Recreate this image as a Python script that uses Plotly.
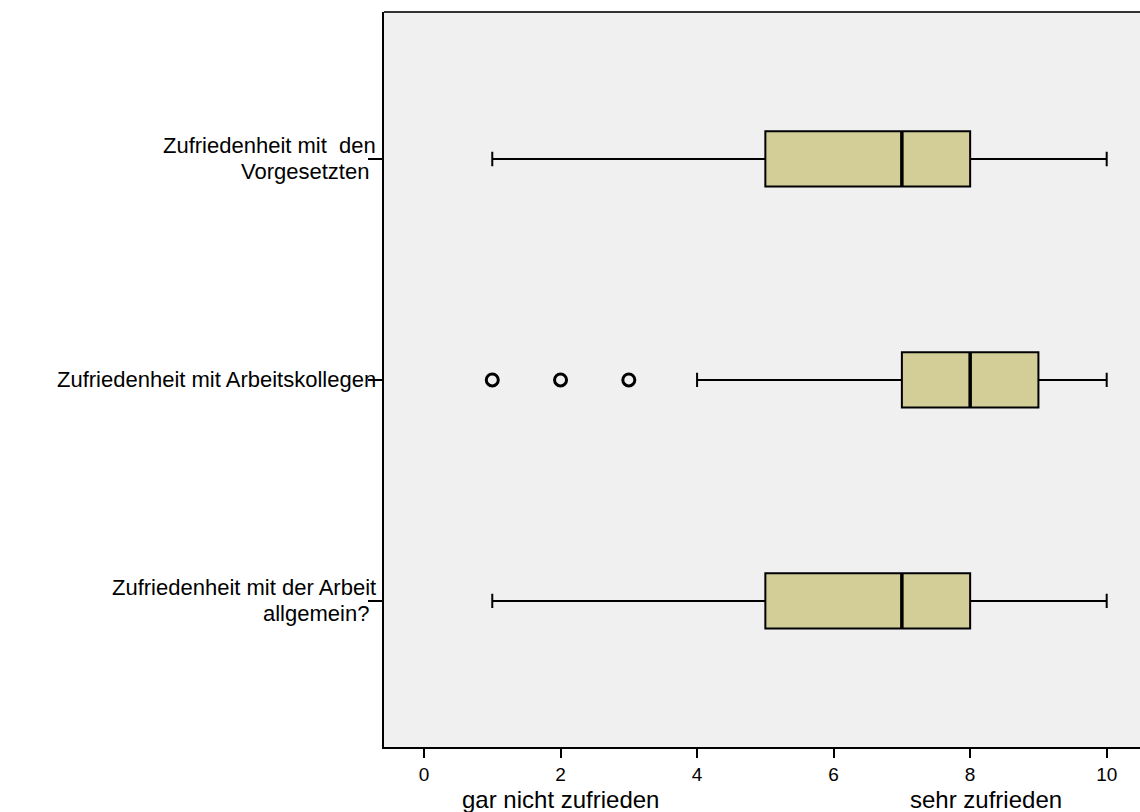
import plotly.graph_objects as go

categories = ["Zufriedenheit mit der Arbeit<br>allgemein? ",
              "Zufriedenheit mit Arbeitskollegen",
              "Zufriedenheit mit  den<br>Vorgesetzten "]
positions = [0, 1, 2]
lower_whisker = [1, 4, 1]
q1 = [5, 7, 5]
median = [7, 8, 7]
q3 = [8, 9, 8]
upper_whisker = [10, 10, 10]
outliers_x = [1, 2, 3]
outliers_cat = [1, 1, 1]
x_ticks = [0, 2, 4, 6, 8, 10]

BOX_W = 0.25
FILL = "#D3CE98"
FONT = "Liberation Sans, Arial, sans-serif"
LABEL_SIZE = 22
LINE_GAP = 26

fig = go.Figure()
for i, p in enumerate(positions):
    fig.add_trace(go.Box(
        y=[p], q1=[q1[i]], median=[median[i]], q3=[q3[i]],
        lowerfence=[lower_whisker[i]], upperfence=[upper_whisker[i]],
        orientation="h", width=BOX_W, whiskerwidth=0.26,
        fillcolor=FILL, line=dict(color="black", width=2),
        boxpoints=False, showlegend=False, hoverinfo="skip"))
    fig.add_trace(go.Scatter(
        x=[median[i], median[i]], y=[p - BOX_W / 2, p + BOX_W / 2],
        mode="lines", line=dict(color="black", width=3.5),
        showlegend=False, hoverinfo="skip"))

fig.add_trace(go.Scatter(
    x=outliers_x, y=outliers_cat, mode="markers",
    marker=dict(symbol="circle-open", size=12, color="black",
                line=dict(color="black", width=3)),
    showlegend=False, hoverinfo="skip"))

fig.update_layout(
    width=1140, height=812,
    margin=dict(l=384, r=0, t=12, b=65),
    paper_bgcolor="white", plot_bgcolor="#F0F0F0",
    font=dict(family=FONT, color="black"),
    xaxis=dict(range=[-0.586, 10.488], tickvals=x_ticks,
               ticktext=[str(v) for v in x_ticks],
               showgrid=False, zeroline=False,
               showline=True, linecolor="black", linewidth=2,
               ticks="outside", ticklen=9, tickwidth=2, tickcolor="black",
               tickfont=dict(size=19, family=FONT)),
    yaxis=dict(range=[-0.661, 2.665], tickvals=positions,
               ticktext=["" for _ in positions],
               showgrid=False, zeroline=False,
               showline=True, linecolor="black", linewidth=2,
               ticks="outside", ticklen=14, tickwidth=2, tickcolor="black"),
)

# category labels, one annotation per text line
for p, cat in zip(positions, categories):
    lines = cat.split("<br>")
    n = len(lines)
    for k, line in enumerate(lines):
        offset = ((n - 1) / 2 - k) * LINE_GAP
        fig.add_annotation(text=line.replace(" ", "&nbsp;") if line.endswith(" ") else line,
                           x=0, xref="paper", xanchor="right", xshift=-6,
                           y=p, yref="y", yanchor="middle", yshift=offset,
                           showarrow=False,
                           font=dict(size=LABEL_SIZE, family=FONT))

fig.add_shape(type="line", xref="paper", yref="paper", x0=0, x1=1, y0=1, y1=1,
              line=dict(color="#333333", width=2))

fig.add_annotation(text="gar nicht zufrieden", x=2, xref="x", y=-0.072, yref="paper",
                   yanchor="middle", showarrow=False, font=dict(size=24, family=FONT))
fig.add_annotation(text="sehr zufrieden", x=8.23, xref="x", y=-0.072, yref="paper",
                   yanchor="middle", showarrow=False, font=dict(size=24, family=FONT))

fig.write_html("out.html")
